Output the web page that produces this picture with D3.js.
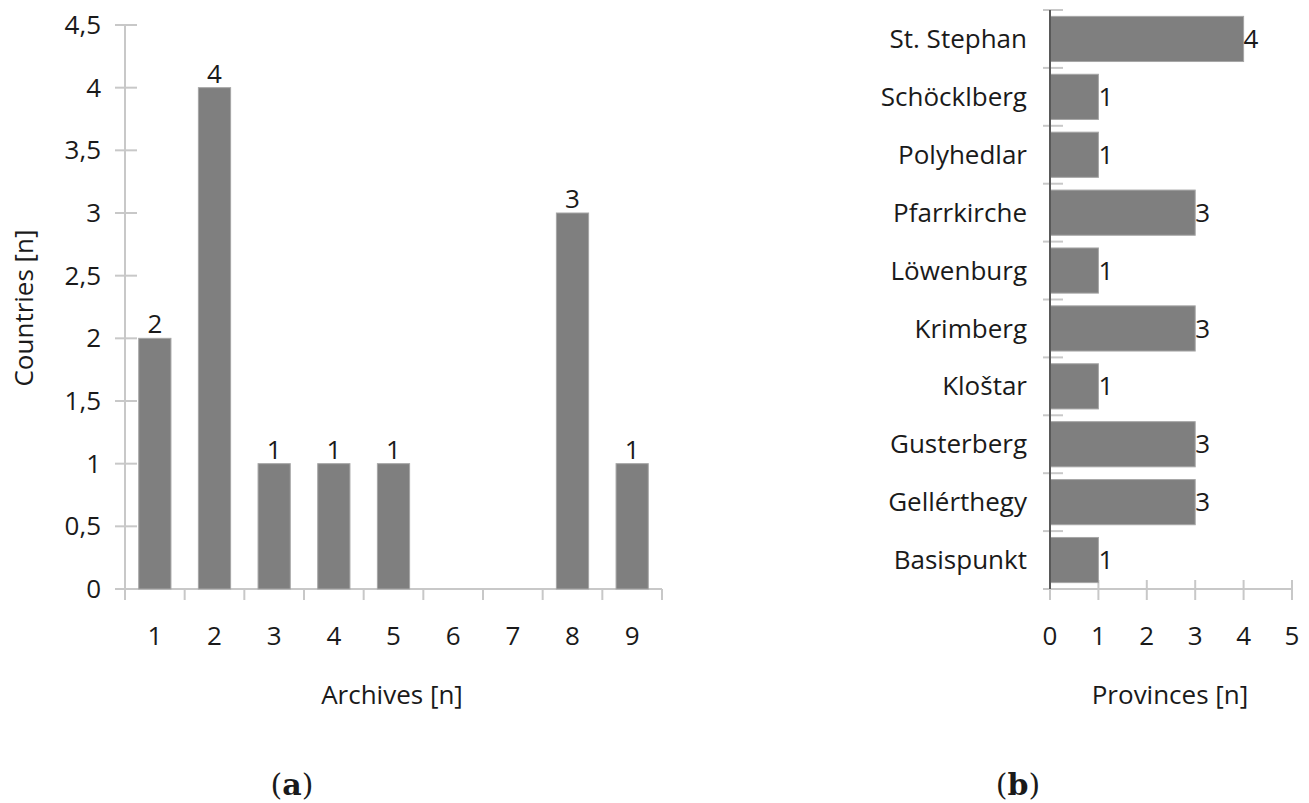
<!DOCTYPE html>
<html>
<head>
<meta charset="utf-8">
<script src="https://cdn.jsdelivr.net/npm/d3@7"></script>
<style>
  body { margin: 0; background: #fff; }
  svg text { font-family: "Open Sans", "Noto Sans", sans-serif; fill: #1a1a1a; }
</style>
</head>
<body>
<div id="chart"></div>
<script>
// panel (a): archives per country
var archives = ['1', '2', '3', '4', '5', '6', '7', '8', '9'];
var countries = [2, 4, 1, 1, 1, 0, 0, 3, 1];
var yTicksA = [0, 0.5, 1, 1.5, 2, 2.5, 3, 3.5, 4, 4.5];

// panel (b): provinces per point
var points = ['St. Stephan', 'Schöcklberg', 'Polyhedlar', 'Pfarrkirche', 'Löwenburg',
  'Krimberg', 'Kloštar', 'Gusterberg', 'Gellérthegy', 'Basispunkt'];
var provinces = [4, 1, 1, 3, 1, 3, 1, 3, 3, 1];
var xTicksB = [0, 1, 2, 3, 4, 5];

var barColor = '#7f7f7f',
  axisColor = '#c8c8c8',
  fontSize = 26;

var svg = d3.select('#chart').append('svg')
  .attr('width', 1309)
  .attr('height', 803);

var fmt = function(v) { return String(v).replace('.', ','); };

/* ---- panel (a) ---- */
var xA = d3.scaleBand().domain(archives).range([125, 662]).paddingInner(0.46).paddingOuter(0.23);
var yA = d3.scaleLinear().domain([0, 4.5]).range([589, 25]);

var gA = svg.append('g');

// y axis
gA.append('line')
  .attr('x1', 125).attr('x2', 125)
  .attr('y1', yA(4.5)).attr('y2', yA(0))
  .style('stroke', axisColor).style('stroke-width', 2);
gA.selectAll('.ytick').data(yTicksA).enter().append('line')
  .attr('x1', 115).attr('x2', 137)
  .attr('y1', function(d) { return yA(d); })
  .attr('y2', function(d) { return yA(d); })
  .style('stroke', axisColor).style('stroke-width', 2);
gA.selectAll('.ylab').data(yTicksA).enter().append('text')
  .attr('x', 101)
  .attr('y', function(d) { return yA(d); })
  .attr('dy', '0.35em')
  .attr('text-anchor', 'end')
  .style('font-size', fontSize + 'px')
  .text(fmt);

// x axis
gA.append('line')
  .attr('x1', 115).attr('x2', 662)
  .attr('y1', 589).attr('y2', 589)
  .style('stroke', axisColor).style('stroke-width', 2);
var bounds = archives.map(function(d) { return xA(d) - xA.step() * xA.paddingInner() / 2; });
bounds.push(662);
bounds[0] = 125;
gA.selectAll('.xtick').data(bounds).enter().append('line')
  .attr('x1', function(d) { return d; })
  .attr('x2', function(d) { return d; })
  .attr('y1', 589).attr('y2', 600)
  .style('stroke', axisColor).style('stroke-width', 2);
gA.selectAll('.xlab').data(archives).enter().append('text')
  .attr('x', function(d) { return xA(d) + xA.bandwidth() / 2; })
  .attr('y', 636)
  .attr('dy', '0.35em')
  .attr('text-anchor', 'middle')
  .style('font-size', fontSize + 'px')
  .text(function(d) { return d; });

// bars
var dataA = archives.map(function(d, i) { return { k: d, v: countries[i] }; })
  .filter(function(d) { return d.v > 0; });
gA.selectAll('.bar').data(dataA).enter().append('rect')
  .attr('x', function(d) { return xA(d.k); })
  .attr('y', function(d) { return yA(d.v); })
  .attr('width', xA.bandwidth())
  .attr('height', function(d) { return yA(0) - yA(d.v); })
  .style('fill', barColor)
  .style('stroke', '#a6a6a6')
  .style('stroke-width', 1);
gA.selectAll('.val').data(dataA).enter().append('text')
  .attr('x', function(d) { return xA(d.k) + xA.bandwidth() / 2; })
  .attr('y', function(d) { return yA(d.v) - 5; })
  .attr('text-anchor', 'middle')
  .style('font-size', fontSize + 'px')
  .text(function(d) { return d.v; });

gA.append('text')
  .attr('transform', 'translate(33,308) rotate(-90)')
  .attr('text-anchor', 'middle')
  .style('font-size', fontSize + 'px')
  .text('Countries [n]');
gA.append('text')
  .attr('x', 392).attr('y', 704)
  .attr('text-anchor', 'middle')
  .style('font-size', fontSize + 'px')
  .text('Archives [n]');

/* ---- panel (b) ---- */
var yB = d3.scaleBand().domain(points).range([10, 589]).paddingInner(0.22).paddingOuter(0.11);
var xB = d3.scaleLinear().domain([0, 5]).range([1050, 1292]);

var gB = svg.append('g');

var boundsB = points.map(function(d) { return yB(d) - yB.step() * yB.paddingInner() / 2; });
boundsB[0] = 10;
gB.selectAll('.ytick').data(boundsB).enter().append('line')
  .attr('x1', 1043).attr('x2', 1063)
  .attr('y1', function(d) { return d; })
  .attr('y2', function(d) { return d; })
  .style('stroke', axisColor).style('stroke-width', 2);
gB.selectAll('.ylab').data(points).enter().append('text')
  .attr('x', 1027)
  .attr('y', function(d) { return yB(d) + yB.bandwidth() / 2; })
  .attr('dy', '0.35em')
  .attr('text-anchor', 'end')
  .style('font-size', fontSize + 'px')
  .text(function(d) { return d; });

// x axis
gB.append('line')
  .attr('x1', 1043).attr('x2', 1292)
  .attr('y1', 589).attr('y2', 589)
  .style('stroke', axisColor).style('stroke-width', 2);
gB.selectAll('.xtick').data(xTicksB).enter().append('line')
  .attr('x1', function(d) { return xB(d); })
  .attr('x2', function(d) { return xB(d); })
  .attr('y1', 580).attr('y2', 600)
  .style('stroke', axisColor).style('stroke-width', 2);
gB.selectAll('.xlab').data(xTicksB).enter().append('text')
  .attr('x', function(d) { return xB(d); })
  .attr('y', 636)
  .attr('dy', '0.35em')
  .attr('text-anchor', 'middle')
  .style('font-size', fontSize + 'px')
  .text(function(d) { return d; });

var dataB = points.map(function(d, i) { return { k: d, v: provinces[i] }; });
gB.selectAll('.bar').data(dataB).enter().append('rect')
  .attr('x', xB(0))
  .attr('y', function(d) { return yB(d.k); })
  .attr('width', function(d) { return xB(d.v) - xB(0); })
  .attr('height', yB.bandwidth())
  .style('fill', barColor)
  .style('stroke', '#a6a6a6')
  .style('stroke-width', 1);
gB.selectAll('.val').data(dataB).enter().append('text')
  .attr('x', function(d) { return xB(d.v); })
  .attr('y', function(d) { return yB(d.k) + yB.bandwidth() / 2; })
  .attr('dy', '0.35em')
  .style('font-size', fontSize + 'px')
  .text(function(d) { return d.v; });

// dark y axis line drawn over the bars
gB.append('line')
  .attr('x1', 1050).attr('x2', 1050)
  .attr('y1', 10).attr('y2', 589)
  .style('stroke', '#595959').style('stroke-width', 2);

gB.append('text')
  .attr('x', 1170).attr('y', 704)
  .attr('text-anchor', 'middle')
  .style('font-size', fontSize + 'px')
  .text('Provinces [n]');

/* ---- panel letters ---- */
svg.selectAll('.letter').data([{ t: 'a', x: 292 }, { t: 'b', x: 1018 }]).enter().append('text')
  .attr('x', function(d) { return d.x; })
  .attr('y', 795)
  .attr('text-anchor', 'middle')
  .style('font-family', '"DejaVu Serif", "Liberation Serif", serif')
  .style('font-size', '30px')
  .html(function(d) { return '(<tspan style="font-weight:bold">' + d.t + '</tspan>)'; });
</script>
</body>
</html>
